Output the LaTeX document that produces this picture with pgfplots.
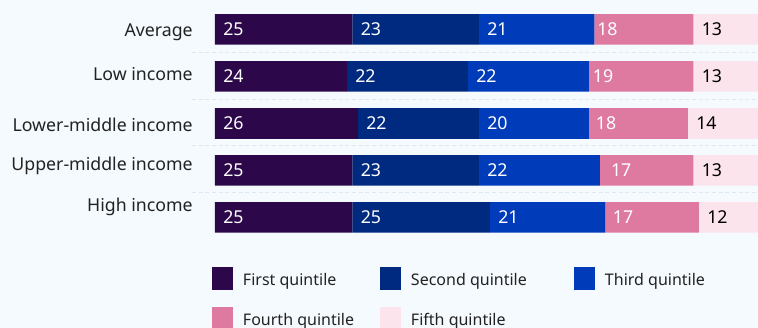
\documentclass[border=0pt]{standalone}
\usepackage{pgfplots}
\pgfplotsset{compat=1.18}
\usepackage{pgfplotstable}
\usepackage{fontspec}
\setmainfont{Noto Sans}
\definecolor{bg}{HTML}{F5FAFE}
\definecolor{c1}{HTML}{2C084A}
\definecolor{c2}{HTML}{002A80}
\definecolor{c3}{HTML}{003BB9}
\definecolor{c4}{HTML}{DE7AA0}
\definecolor{c5}{HTML}{FCE4EC}
\definecolor{sepc}{HTML}{DCE8F3}
\definecolor{lab}{HTML}{222222}

% values (q) and the position of each value label (s)
\pgfplotstableread{
y q1 q2 q3 q4 q5 s1 s2 s3 s4 s5
29.4 25 23 21 18 13 0 25 48 68.0 87
76.4 24 22 22 19 13 0 24 46 67.2 87
123.5 26 22 20 18 14 0 26 48 67.75 86
170.4 25 23 22 17 13 0 25 48 70.5 87
217.4 25 25 21 17 12 0 25 50 70.85 88
}\data

\pgfplotsset{
  qleg/.style={legend image code/.code={\fill[##1] (0pt,-7.45pt) rectangle (15.75pt,9.8pt);}},
  geom/.style={at={(0pt,0pt)}, anchor=north west,
    x=4.125pt, y=0.75pt, y dir=reverse,
    xmin=0, xmax=100, ymin=0, ymax=240, clip=false},
}

\begin{document}
\begin{tikzpicture}
\useasboundingbox (-161.25pt,0pt) rectangle (407.25pt,-246pt);
\clip (-161.25pt,0pt) rectangle (407.25pt,-246pt);
\fill[bg] (-161.25pt,0pt) rectangle (407.25pt,-246pt);
\begin{axis}[
  geom,
  xbar stacked, bar width=23pt,
  axis line style={draw=none}, tick style={draw=none}, major tick length=0pt,
  xtick=\empty,
  ytick={36.7,80.7,131,170.7,211.7},
  yticklabels={Average,Low income,Lower-middle income,Upper-middle income,High income},
  yticklabel style={anchor=base east, inner sep=0pt, xshift=-16.5pt, font=\fontsize{13.3}{15}\selectfont, text=lab},
  every axis plot post/.append style={qleg},
  legend columns=3,
  legend cell align=left,
  legend style={at={(axis cs:-0.545,267)}, anchor=north west, draw=none, fill=none,
    inner sep=0pt, outer sep=0pt, row sep=12.75pt,
    nodes={inner sep=0pt, font=\fontsize{12}{14}\selectfont, text=lab},
    /tikz/every odd column/.append style={column sep=7.5pt}},
]
\addplot[fill=c1, draw=none] table[x=q1,y=y]{\data};
\addlegendentry{\makebox[102.75pt][l]{First quintile}}
\addplot[fill=c2, draw=none] table[x=q2,y=y]{\data};
\addlegendentry{\makebox[122.25pt][l]{Second quintile}}
\addplot[fill=c3, draw=none] table[x=q3,y=y]{\data};
\addlegendentry{Third quintile}
\addplot[fill=c4, draw=none] table[x=q4,y=y]{\data};
\addlegendentry{\makebox[102.75pt][l]{Fourth quintile}}
\addplot[fill=c5, draw=none] table[x=q5,y=y]{\data};
\addlegendentry{\makebox[122.25pt][l]{Fifth quintile}}
\draw[sepc, line width=0.75pt, dash pattern=on 3pt off 2pt] (axis cs:-4.2,52.3) -- (axis cs:100,52.3);
\draw[sepc, line width=0.75pt, dash pattern=on 3pt off 2pt] (axis cs:-4.2,99) -- (axis cs:100,99);
\draw[sepc, line width=0.75pt, dash pattern=on 3pt off 2pt] (axis cs:-4.2,145.5) -- (axis cs:100,145.5);
\draw[sepc, line width=0.75pt, dash pattern=on 3pt off 2pt] (axis cs:-4.2,192.3) -- (axis cs:100,192.3);
\end{axis}
% value labels, same geometry
\begin{axis}[
  geom, hide axis,
  point meta=explicit symbolic,
  nodes near coords,
  nodes near coords align={horizontal},
  every node near coord/.append style={anchor=west, inner sep=0pt, xshift=6pt, font=\fontsize{13.3}{15}\selectfont},
]
\addplot[draw=none, mark=none, every node near coord/.append style={text=white}] table[x=s1,y=y,meta=q1]{\data};
\addplot[draw=none, mark=none, every node near coord/.append style={text=white}] table[x=s2,y=y,meta=q2]{\data};
\addplot[draw=none, mark=none, every node near coord/.append style={text=white}] table[x=s3,y=y,meta=q3]{\data};
\addplot[draw=none, mark=none, every node near coord/.append style={text=white}] table[x=s4,y=y,meta=q4]{\data};
\addplot[draw=none, mark=none, every node near coord/.append style={text=black}] table[x=s5,y=y,meta=q5]{\data};
\end{axis}
\end{tikzpicture}
\end{document}
